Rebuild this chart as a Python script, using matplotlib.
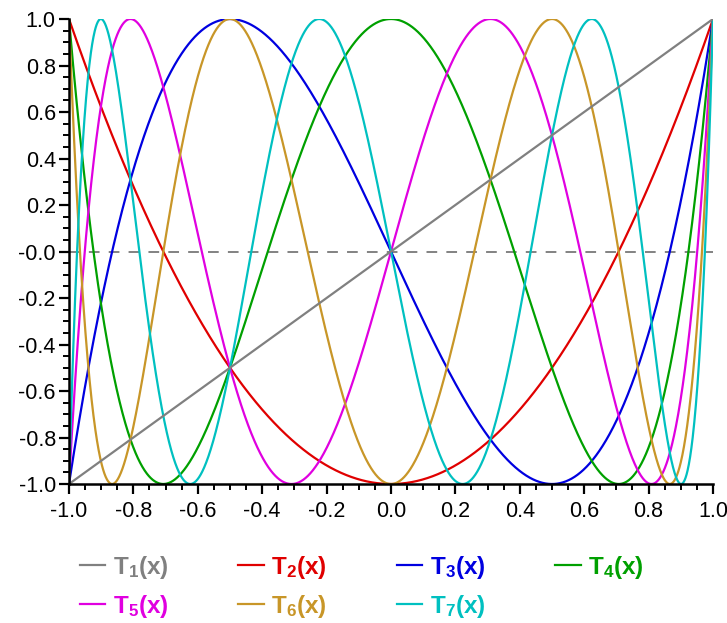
import numpy as np
import matplotlib
matplotlib.use("Agg")
import matplotlib.pyplot as plt
from matplotlib.ticker import MultipleLocator, FixedLocator, FixedFormatter
from numpy.polynomial import chebyshev as C

# ---- data ----
degrees = [1, 2, 3, 4, 5, 6, 7]
labels = [r"$\mathrm{T_%d(x)}$" % d for d in degrees]
colors = ["#808080", "#e00000", "#0000e0", "#00a000", "#e000e0", "#c89628", "#00c0c0"]
x_ticks = [-1.0, -0.8, -0.6, -0.4, -0.2, 0.0, 0.2, 0.4, 0.6, 0.8, 1.0]
x_tick_labels = ["-1.0", "-0.8", "-0.6", "-0.4", "-0.2", "0.0", "0.2", "0.4", "0.6", "0.8", "1.0"]
y_ticks = [1.0, 0.8, 0.6, 0.4, 0.2, 0.0, -0.2, -0.4, -0.6, -0.8, -1.0]
y_tick_labels = ["1.0", "0.8", "0.6", "0.4", "0.2", "-0.0", "-0.2", "-0.4", "-0.6", "-0.8", "-1.0"]

plt.rcParams["font.family"] = ["Liberation Sans", "DejaVu Sans"]
plt.rcParams["mathtext.fontset"] = "custom"
plt.rcParams["mathtext.rm"] = "Liberation Sans:bold"
plt.rcParams["mathtext.it"] = "Liberation Sans:bold"
plt.rcParams["mathtext.bf"] = "Liberation Sans:bold"

fig = plt.figure(figsize=(7.27, 6.23), dpi=100)
ax = fig.add_axes([0.0949, 0.2231, 0.8858, 0.7464])

xs = np.linspace(-1, 1, 2001)
ax.axhline(0, color="#606060", lw=1.1, dashes=(7, 6), zorder=1)
lines = []
for d, lab, col in zip(degrees, labels, colors):
    ys = C.chebval(xs, [0] * d + [1])
    ln, = ax.plot(xs, ys, color=col, lw=1.6, label=lab, zorder=2 + (10 if d == 1 else 0))
    lines.append(ln)

ax.set_xlim(-1, 1)
ax.set_ylim(-1, 1)
for s in ["top", "right"]:
    ax.spines[s].set_visible(False)
for s in ["left", "bottom"]:
    ax.spines[s].set_linewidth(1.8)
    ax.spines[s].set_zorder(20)

ax.xaxis.set_major_locator(FixedLocator(x_ticks))
ax.xaxis.set_major_formatter(FixedFormatter(x_tick_labels))
ax.yaxis.set_major_locator(FixedLocator(y_ticks))
ax.yaxis.set_major_formatter(FixedFormatter(y_tick_labels))
ax.xaxis.set_minor_locator(MultipleLocator(0.05))
ax.yaxis.set_minor_locator(MultipleLocator(0.05))
ax.tick_params(which="major", direction="out", length=7.5, width=1.6, labelsize=15.5, pad=2)
ax.tick_params(which="minor", direction="out", length=4, width=1.4)
ax.tick_params(axis="x", which="major", pad=5)

order = [0, 4, 1, 5, 2, 6, 3]
leg = fig.legend([lines[i] for i in order], [labels[i] for i in order],
                 loc="upper left", bbox_to_anchor=(0.11, 0.111), ncol=4,
                 frameon=False, fontsize=17.5, handlelength=1.05, handletextpad=0.3,
                 columnspacing=2.88, labelspacing=0.5, borderaxespad=0, borderpad=0)
for t, i in zip(leg.get_texts(), order):
    t.set_color(colors[i])

fig.savefig("out.png", dpi=100)
